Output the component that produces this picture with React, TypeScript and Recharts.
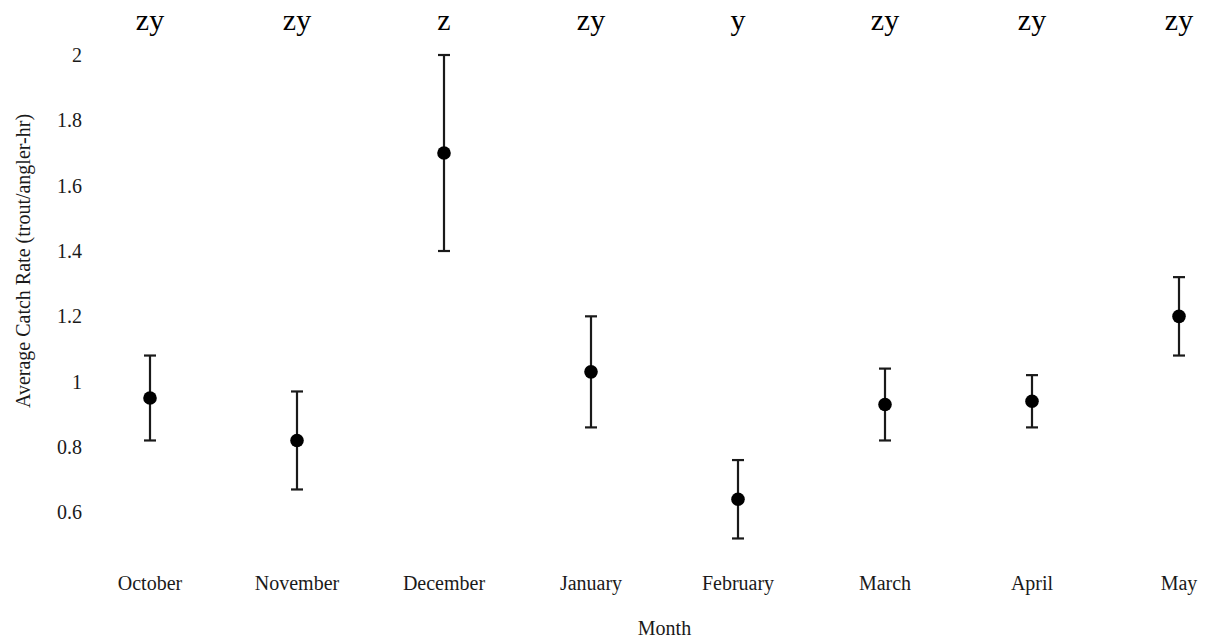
import React from 'react';
import {
  ComposedChart,
  Scatter,
  ErrorBar,
  XAxis,
  YAxis,
} from 'recharts';

// Months on the x axis, with group letters shown above each column
const months = ['October', 'November', 'December', 'January', 'February', 'March', 'April', 'May'];
const letters = ['zy', 'zy', 'z', 'zy', 'y', 'zy', 'zy', 'zy'];

// Average catch rate and the ends of each error bar
const means = [0.95, 0.82, 1.70, 1.03, 0.64, 0.93, 0.94, 1.20];
const lowers = [0.82, 0.67, 1.40, 0.86, 0.52, 0.82, 0.86, 1.08];
const uppers = [1.08, 0.97, 2.00, 1.20, 0.76, 1.04, 1.02, 1.32];

const yTicks = [0.6, 0.8, 1, 1.2, 1.4, 1.6, 1.8, 2];

const FONT = '"Liberation Serif", "Times New Roman", serif';
const INK = '#1a1a1a';

const chartData = months.map((month, i) => ({
  month,
  letter: letters[i],
  mean: means[i],
  err: [means[i] - lowers[i], uppers[i] - means[i]],
}));

// Filled black dot for each month
const Dot = (props: any) => {
  const { cx, cy } = props;
  if (cx == null || cy == null) return null;
  return <circle cx={cx} cy={cy} r={6.8} fill="#000" />;
};

const App: React.FC = () => {
  return (
    <div style={{ position: 'absolute', left: 0, top: 0, background: '#fff' }}>
      <ComposedChart
        width={1207}
        height={642}
        data={chartData}
        margin={{ top: 0, right: 0, bottom: 0, left: 0 }}
        style={{ fontFamily: FONT }}
      >
        <XAxis
          xAxisId="bottom"
          dataKey="month"
          type="category"
          scale="point"
          padding={{ left: 60, right: 28 }}
          height={97}
          axisLine={false}
          tickLine={false}
          tickSize={0}
          tickMargin={31}
          interval={0}
          tick={{ fill: INK, fontSize: 20, fontFamily: FONT }}
          label={{
            value: 'Month',
            position: 'insideBottom',
            offset: 7,
            dx: 16,
            fill: INK,
            fontSize: 20,
            fontFamily: FONT,
          }}
        />
        <XAxis
          xAxisId="top"
          orientation="top"
          dataKey="month"
          type="category"
          scale="point"
          padding={{ left: 60, right: 28 }}
          height={55}
          axisLine={false}
          tickLine={false}
          tickSize={0}
          tickMargin={25}
          interval={0}
          tickFormatter={(m: string) => letters[months.indexOf(m)] ?? ''}
          tick={{ fill: '#000', fontSize: 30, fontFamily: FONT }}
        />
        <YAxis
          domain={[0.5, 2]}
          ticks={yTicks}
          width={90}
          axisLine={false}
          tickLine={false}
          interval={0}
          tick={{ fill: INK, fontSize: 20, fontFamily: FONT }}
          label={{
            value: 'Average Catch Rate (trout/angler-hr)',
            angle: -90,
            position: 'insideLeft',
            offset: 23,
            dy: -39,
            fill: INK,
            fontSize: 20,
            fontFamily: FONT,
            style: { textAnchor: 'middle' },
          }}
        />
        <Scatter
          xAxisId="bottom"
          dataKey="mean"
          shape={<Dot />}
          isAnimationActive={false}
        >
          <ErrorBar
            dataKey="err"
            direction="y"
            width={6}
            stroke={INK}
            strokeWidth={2.2}
            isAnimationActive={false}
          />
        </Scatter>
      </ComposedChart>
    </div>
  );
};

export default App;
